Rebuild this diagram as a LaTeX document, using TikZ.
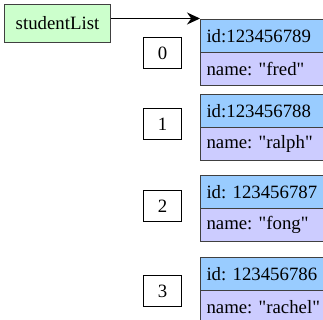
\documentclass[tikz,border=0pt]{standalone}
\usepackage{fontspec}
\setmainfont{Liberation Serif}[Ligatures=TeXOff]
\usetikzlibrary{arrows.meta}
\definecolor{gfill}{HTML}{CCFFCC}
\definecolor{bfill}{HTML}{99CCFF}
\definecolor{lfill}{HTML}{CCCCFF}
\definecolor{edge}{HTML}{404040}
\newcommand\qt{\char34\relax}
\tikzset{
  txt/.style={font=\fontsize{18.8}{20}\selectfont\frenchspacing},
  cell/.style={txt,draw=edge,line width=1pt,rectangle,minimum width=140pt,minimum height=33pt,text width=128pt,align=left,inner sep=6pt,anchor=north west},
  idcell/.style={cell,fill=bfill},
  namecell/.style={cell,fill=lfill},
  idxbox/.style={txt,draw=black,line width=1pt,fill=white,minimum width=38pt,minimum height=31pt,inner sep=0pt,anchor=north west},
  listbox/.style={txt,draw=edge,line width=1pt,fill=gfill,minimum width=106pt,minimum height=38pt,inner sep=0pt,anchor=north west}
}
\begin{document}
\begin{tikzpicture}[x=1pt,y=-1pt]
\useasboundingbox (0,0) rectangle (323,320);
\clip (0,0) rectangle (323,320);
\node[listbox] (sl) at (4,4) {studentList};
\node[idcell] (r0a) at (200,19) {id:123456789};
\node[namecell] (r0b) at (200,52) {name: \qt fred\qt};
\node[idcell] (r1a) at (200,94) {id:123456788};
\node[namecell] (r1b) at (200,127) {name: \qt ralph\qt};
\node[idcell] (r2a) at (200,175) {id: 123456787};
\node[namecell] (r2b) at (200,208) {name: \qt fong\qt};
\node[idcell] (r3a) at (200,257) {id: 123456786};
\node[namecell] (r3b) at (200,290) {name: \qt rachel\qt};
\node[idxbox] (i0) at (143,37) {0};
\node[idxbox] (i1) at (143,108) {1};
\node[idxbox] (i2) at (143,190) {2};
\node[idxbox] (i3) at (143,275) {3};
\coordinate (from) at ([yshift=5pt]sl.east);
\draw[-{Stealth[length=13pt,width=12pt]},line width=1.2pt] (from) -- (from -| r0a.west);
\end{tikzpicture}
\end{document}
